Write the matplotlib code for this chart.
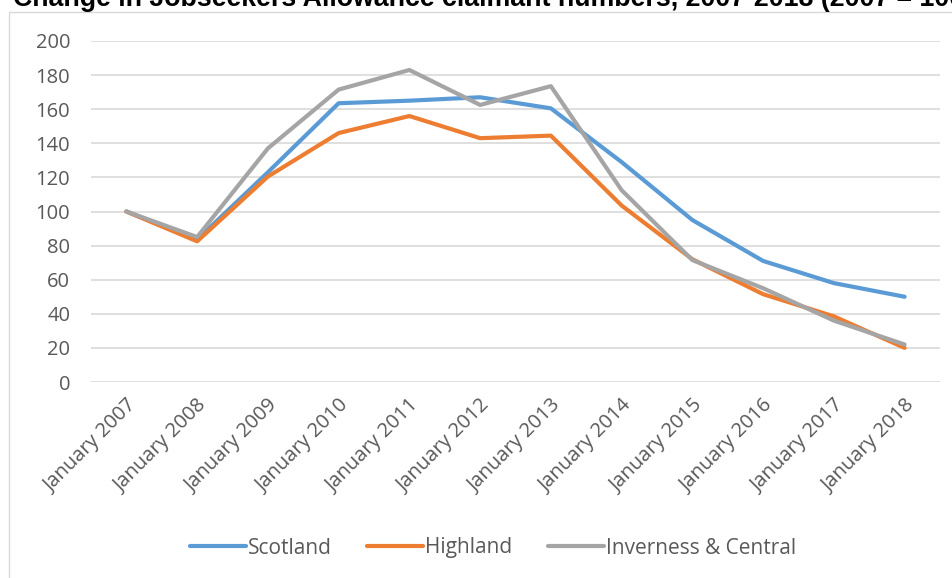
import matplotlib
matplotlib.use("Agg")
import matplotlib.pyplot as plt
from matplotlib.patches import Rectangle

years = ["January 2007", "January 2008", "January 2009", "January 2010", "January 2011", "January 2012",
         "January 2013", "January 2014", "January 2015", "January 2016", "January 2017", "January 2018"]
scotland = [100, 83.5, 123, 163.5, 165, 167, 160.5, 129, 95, 71, 58, 50]
highland = [100, 82.5, 120.5, 146, 156, 143, 144.5, 103.5, 72, 51.5, 38.5, 20]
inverness = [100, 85, 137, 171.5, 183, 162.5, 173.5, 112.5, 71.5, 55, 36, 22]
yticks = list(range(0, 201, 20))

W, H = 953, 578
fig = plt.figure(figsize=(W / 100, H / 100), dpi=100)
fig.patch.set_facecolor("white")

# chart-area border
fig.patches.append(Rectangle((9 / W, -0.01), 1.2, 1 - 12 / H + 0.01, transform=fig.transFigure,
                             fill=False, edgecolor="#D9D9D9", linewidth=1.0))

fig.text(13 / W, 1 - 6 / H, "Change in Jobseekers Allowance claimant numbers, 2007-2018 (2007 = 100)",
         fontsize=19.3, fontweight="bold", family="Liberation Sans", va="baseline", ha="left", color="black")

ax = fig.add_axes([91 / W, 1 - 382 / H, (940 - 91) / W, (382 - 41) / H])
x = list(range(len(years)))
col_s, col_h, col_i = "#5B9BD5", "#ED7D31", "#A5A5A5"
ax.plot(x, scotland, color=col_s, lw=3, solid_capstyle="round", solid_joinstyle="round", label="Scotland", zorder=3)
ax.plot(x, highland, color=col_h, lw=3, solid_capstyle="round", solid_joinstyle="round", label="Highland", zorder=4)
ax.plot(x, inverness, color=col_i, lw=3, solid_capstyle="round", solid_joinstyle="round", label="Inverness & Central", zorder=5)

ax.set_xlim(-0.5, len(years) - 0.5)
ax.set_ylim(0, 200)
ax.set_yticks(yticks)
ax.set_xticks(x)
ax.set_xticklabels(years, rotation=45, ha="right", rotation_mode="anchor")
for lbl in ax.get_xticklabels() + ax.get_yticklabels():
    lbl.set_fontfamily("Open Sans")
    lbl.set_color("#595959")
for lbl in ax.get_yticklabels():
    lbl.set_fontsize(14.5)
for lbl in ax.get_xticklabels():
    lbl.set_fontsize(14.5)
ax.tick_params(axis="both", length=0)
ax.tick_params(axis="y", pad=15)
ax.tick_params(axis="x", pad=10)
ax.grid(axis="y", color="#D9D9D9", lw=1.2)
ax.set_axisbelow(True)
for s in ax.spines.values():
    s.set_visible(False)

leg = fig.legend(loc="center", bbox_to_anchor=(493 / W, 1 - 548 / H), ncol=3, frameon=False,
                 prop={"family": "Open Sans", "size": 15}, handlelength=2.7, handletextpad=0.1,
                 columnspacing=1.7)
for t in leg.get_texts():
    t.set_color("#595959")

fig.savefig("out.png", dpi=100, facecolor="white")
